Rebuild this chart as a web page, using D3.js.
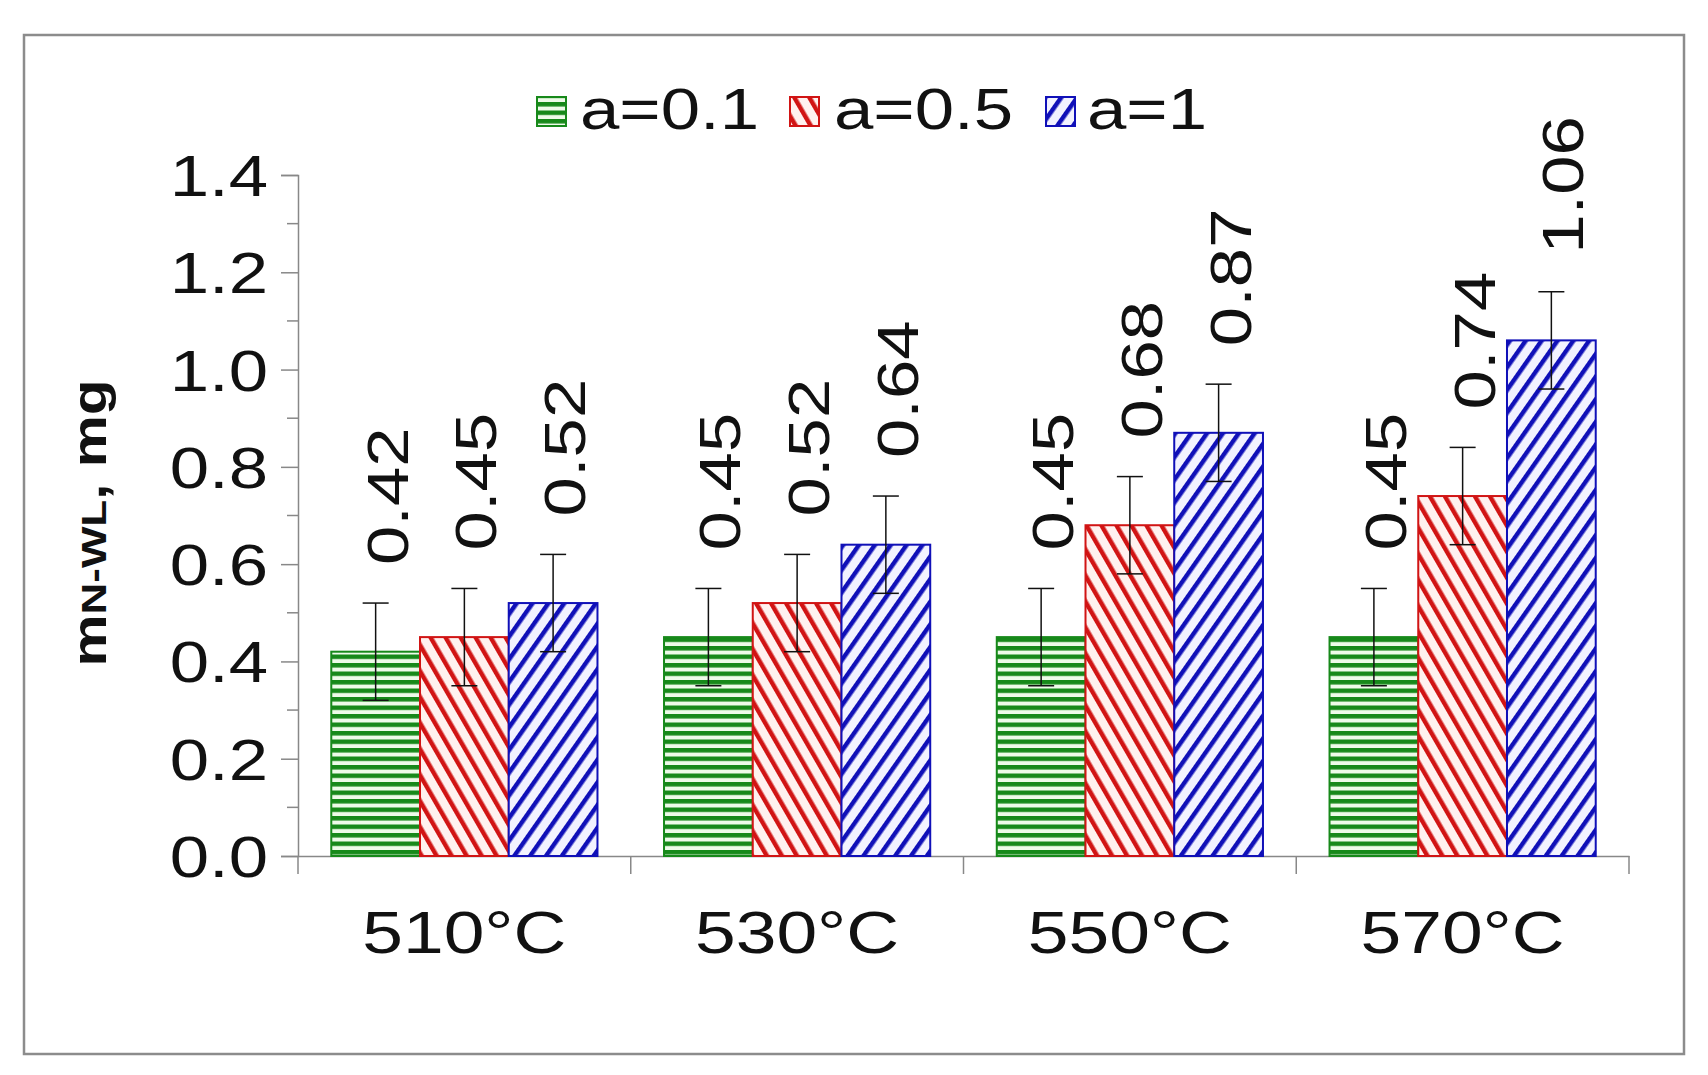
<!DOCTYPE html>
<html><head><meta charset="utf-8">
<script src="https://cdn.jsdelivr.net/npm/d3@7"></script>
<style>body{margin:0;background:#fff}svg{display:block}</style>
</head><body>
<script>
const categories = ["510°C","530°C","550°C","570°C"];
const seriesNames = ["a=0.1","a=0.5","a=1"];
const valA01 = [0.42,0.45,0.45,0.45];
const valA05 = [0.45,0.52,0.68,0.74];
const valA1  = [0.52,0.64,0.87,1.06];
const errA01 = [0.1,0.1,0.1,0.1];
const errA05 = [0.1,0.1,0.1,0.1];
const errA1  = [0.1,0.1,0.1,0.1];
const labA01 = ["0.42","0.45","0.45","0.45"];
const labA05 = ["0.45","0.52","0.68","0.74"];
const labA1  = ["0.52","0.64","0.87","1.06"];
const yTicks = [0,0.2,0.4,0.6,0.8,1.0,1.2,1.4];

const series = [
  {name:seriesNames[0], vals:valA01, errs:errA01, labs:labA01, color:"#17891a", pat:"pg"},
  {name:seriesNames[1], vals:valA05, errs:errA05, labs:labA05, color:"#d11414", pat:"pr"},
  {name:seriesNames[2], vals:valA1,  errs:errA1,  labs:labA1,  color:"#1010b8", pat:"pb"}
];

const W=1708,H=1075;
const svg=d3.select("body").append("svg").attr("width",W).attr("height",H);
const defs=svg.append("defs");
let p=defs.append("pattern").attr("id","pg").attr("patternUnits","userSpaceOnUse").attr("width",8).attr("height",8.5);
p.append("rect").attr("width",8).attr("height",8.5).attr("fill","#eefbe9");
p.append("rect").attr("y",0).attr("width",8).attr("height",4.5).attr("fill","#17891a");
p=defs.append("pattern").attr("id","pr").attr("patternUnits","userSpaceOnUse").attr("width",13).attr("height",13).attr("patternTransform","rotate(-30)");
p.append("rect").attr("width",13).attr("height",13).attr("fill","#fff1ef");
p.append("rect").attr("x",0).attr("width",4.5).attr("height",13).attr("fill","#d11414");
p=defs.append("pattern").attr("id","pb").attr("patternUnits","userSpaceOnUse").attr("width",13).attr("height",13).attr("patternTransform","rotate(35)");
p.append("rect").attr("width",13).attr("height",13).attr("fill","#f2f2ff");
p.append("rect").attr("x",0).attr("width",4.5).attr("height",13).attr("fill","#1010b8");

svg.append("rect").attr("x",24).attr("y",35).attr("width",1660).attr("height",1019)
  .attr("fill","#fff").attr("stroke","#8c8c8c").attr("stroke-width",2.5);

const x0=298,x1=1629,yb=856,yt=175;
const x=d3.scaleBand().domain(categories).range([x0,x1]);
const y=d3.scaleLinear().domain([0,1.4]).range([yb,yt]);
const xs=d3.scaleBand().domain(seriesNames).range([x.bandwidth()*0.1,x.bandwidth()*0.9]);

const font="Liberation Sans, Arial, sans-serif";
const SX=1.22;
function label(g,tx,ty,rot,txt,size,anchor){
  return g.append("text").attr("transform",`translate(${tx},${ty}) rotate(${rot}) scale(${SX},1)`)
    .attr("text-anchor",anchor).attr("font-family",font).attr("font-size",size).attr("fill","#111").text(txt);
}

const ya=svg.append("g").attr("transform",`translate(${x0},0)`)
  .call(d3.axisLeft(y).tickValues(yTicks).tickFormat("").tickSize(17));
ya.selectAll("line,path").attr("stroke","#888").attr("stroke-width",1.5);
svg.append("g").selectAll("line").data(d3.range(0.1,1.4,0.2)).join("line")
  .attr("x1",x0-11).attr("x2",x0).attr("y1",d=>y(d)).attr("y2",d=>y(d)).attr("stroke","#888").attr("stroke-width",1.5);
const tl=svg.append("g");
yTicks.forEach(t=>label(tl,268,y(t)+21,0,d3.format(".1f")(t),58,"end"));

const xa=svg.append("g").attr("transform",`translate(0,${yb})`)
  .call(d3.axisBottom(x).tickSize(0).tickFormat(""));
xa.select("path").attr("stroke","#888").attr("stroke-width",1.5);
xa.append("g").selectAll("line").data([...categories.map(c=>x(c)),x1]).join("line")
  .attr("x1",d=>d).attr("x2",d=>d).attr("y1",0).attr("y2",18).attr("stroke","#888").attr("stroke-width",1.5);
const cl=svg.append("g");
categories.forEach(c=>label(cl,x(c)+x.bandwidth()/2,953,0,c,60,"middle"));

series.forEach(s=>{
  const g=svg.append("g");
  categories.forEach((c,i)=>{
    const bx=x(c)+xs(s.name), bw=xs.bandwidth(), v=s.vals[i], e=s.errs[i];
    g.append("rect").attr("x",bx).attr("y",y(v)).attr("width",bw).attr("height",yb-y(v))
      .attr("fill",`url(#${s.pat})`).attr("stroke",s.color).attr("stroke-width",2);
    const cx=bx+bw/2;
    g.append("line").attr("x1",cx).attr("x2",cx).attr("y1",y(v+e)).attr("y2",y(v-e)).attr("stroke","#111").attr("stroke-width",1.5);
    [v+e,v-e].forEach(t=>g.append("line").attr("x1",cx-13).attr("x2",cx+13).attr("y1",y(t)).attr("y2",y(t)).attr("stroke","#111").attr("stroke-width",1.5));
    label(g,cx+32,y(v+e)-38,-90,s.labs[i],58,"start");
  });
});

const legX=[537,790,1046], legT=[580,834,1087];
series.forEach((s,i)=>{
  svg.append("rect").attr("x",legX[i]).attr("y",97).attr("width",29).attr("height",29)
    .attr("fill",`url(#${s.pat})`).attr("stroke",s.color).attr("stroke-width",2);
  label(svg,legT[i],129,0,s.name,58,"start");
});

const yl=svg.append("text").attr("transform",`translate(106,523) rotate(-90) scale(${SX},1)`).attr("text-anchor","middle")
  .attr("font-family",font).attr("font-weight","bold").attr("font-size",48).attr("fill","#111");
yl.append("tspan").text("m");
yl.append("tspan").attr("font-size",36).text("N-WL");
yl.append("tspan").text(",  mg");
</script>
</body></html>
